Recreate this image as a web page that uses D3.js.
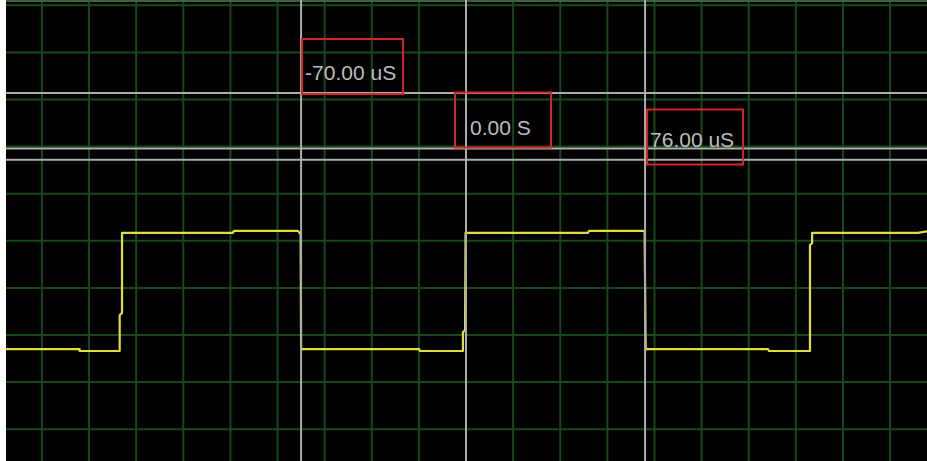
<!DOCTYPE html>
<html>
<head>
<meta charset="utf-8">
<script src="https://cdn.jsdelivr.net/npm/d3@7"></script>
<style>
  html, body { margin: 0; padding: 0; background: #fff; overflow: hidden; }
  svg { display: block; }
</style>
</head>
<body>
<svg id="scope"></svg>
<script>
// Trace samples (time in uS, level in V, 1 V/div)
const traceTime = [-197, -164, -164, -147, -147, -146, -146, -99, -98.5, -71.3, -70.2, -70.0,
  -19.9, -19.5, -1.3, -1.3, -0.4, -0.2, 0.4, 51.8, 52.2, 75.8, 76.2, 76.3,
  128.2, 128.6, 146.0, 146.0, 146.9, 146.9, 191.8, 197];
const traceLevel = [-0.30, -0.30, -0.34, -0.34, 0.42, 0.47, 2.17, 2.17, 2.21, 2.21, 2.14, -0.30,
  -0.30, -0.34, -0.34, 0.06, 0.10, 2.17, 2.17, 2.17, 2.21, 2.21, -0.02, -0.30,
  -0.30, -0.34, -0.34, 1.91, 1.95, 2.17, 2.17, 2.21];

// Cursors
const cursorTimes = [-70, 0, 76];
const cursorLabels = ["-70.00 uS", "0.00 S", "76.00 uS"];
const levelCursors = [5.14, 3.96, 3.72];

// Grid: 20 uS/div, 1 V/div
const timeGrid = d3.range(-180, 200, 20);
const levelGrid = d3.range(-2, 8, 1);

const W = 927, H = 461;
const plotLeft = 6, plotTop = 0;

const svg = d3.select("#scope").attr("width", W).attr("height", H);

const x = d3.scaleLinear().domain([-200, 200]).range([-5.2, 937.2]);
const y = d3.scaleLinear().domain([-3, 7]).range([476.3, 5.3]);

svg.append("defs").append("clipPath").attr("id", "plot")
  .append("rect").attr("x", plotLeft).attr("y", plotTop)
  .attr("width", W - plotLeft).attr("height", H - plotTop);

// background
svg.append("rect").attr("width", W).attr("height", H).attr("fill", "#fff");
const g = svg.append("g").attr("clip-path", "url(#plot)");
g.append("rect").attr("x", plotLeft).attr("y", plotTop)
  .attr("width", W - plotLeft).attr("height", H)
  .attr("fill", "#010101");

// green grid
g.append("g").selectAll("line").data(timeGrid).join("line")
  .attr("x1", d => x(d)).attr("x2", d => x(d))
  .attr("y1", 0).attr("y2", H)
  .attr("stroke", "#17481a").attr("stroke-width", 2);
g.append("g").selectAll("line").data(levelGrid).join("line")
  .attr("x1", plotLeft).attr("x2", W)
  .attr("y1", d => y(d)).attr("y2", d => y(d))
  .attr("stroke", "#17481a").attr("stroke-width", 2);

// top border
g.append("line").attr("x1", plotLeft).attr("x2", W).attr("y1", 1).attr("y2", 1)
  .attr("stroke", "#435e43").attr("stroke-width", 2);

// trace
const pts = traceTime.map((t, i) => [t, traceLevel[i]]);
const line = d3.line().x(d => x(d[0])).y(d => y(d[1]));
g.append("path").datum(pts)
  .attr("d", line)
  .attr("fill", "none")
  .attr("stroke", "#e4de38")
  .attr("stroke-width", 2.2)
  .attr("stroke-linejoin", "round");

// cursors
g.append("g").selectAll("line").data(levelCursors).join("line")
  .attr("x1", plotLeft).attr("x2", W)
  .attr("y1", d => y(d)).attr("y2", d => y(d))
  .attr("stroke", "#acacac").attr("stroke-width", 2);
g.append("g").selectAll("line").data(cursorTimes).join("line")
  .attr("x1", d => x(d)).attr("x2", d => x(d))
  .attr("y1", 0).attr("y2", H)
  .attr("stroke", "#acacac").attr("stroke-width", 2);

// cursor readouts
const boxDx = [1, -11, 2];
const boxY = [39, 92.5, 109.5];
const boxW = [101, 96, 96];
const textDx = [3, 15, 3];
const textDy = [41, 42.5, 37.5];
const labels = g.append("g").selectAll("g").data(cursorTimes).join("g")
  .attr("transform", (d, i) => `translate(${x(d) + boxDx[i]},${boxY[i]})`);
labels.append("rect")
  .attr("width", (d, i) => boxW[i]).attr("height", 55)
  .attr("fill", "none").attr("stroke", "#d42424").attr("stroke-width", 2);
labels.append("text")
  .attr("x", (d, i) => textDx[i])
  .attr("y", (d, i) => textDy[i])
  .attr("fill", "#bdbdbd")
  .style("font-family", "'Liberation Sans', Arial, sans-serif")
  .style("font-size", "21px")
  .text((d, i) => cursorLabels[i]);
</script>
</body>
</html>
